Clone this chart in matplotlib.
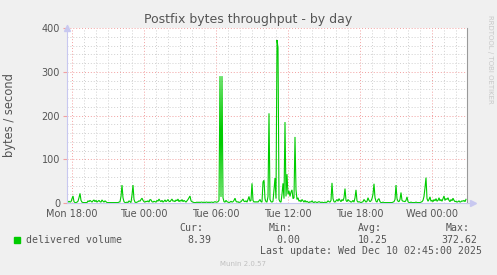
import numpy as np
import matplotlib
matplotlib.use("Agg")
import matplotlib.pyplot as plt
from matplotlib.ticker import MultipleLocator, FixedLocator

# delivered volume, bytes/s, one sample every 5 minutes (400 samples)
values = [
    1, 2, 4, 2, 3, 10, 16, 3, 1, 1, 2, 4, 12, 22, 6, 2, 1, 1, 1, 1,
    1, 5, 3, 6, 4, 2, 5, 7, 3, 6, 2, 4, 6, 3, 2, 7, 4, 2, 5, 3,
    1, 1, 1, 1, 1, 1, 1, 1, 1, 1, 1, 1, 2, 3, 15, 41, 12, 3, 1, 1,
    2, 1, 5, 3, 1, 18, 41, 8, 2, 1, 2, 3, 5, 4, 8, 11, 6, 3, 2, 4,
    3, 5, 2, 8, 7, 3, 2, 4, 3, 2, 6, 4, 9, 5, 3, 6, 2, 4, 7, 3,
    5, 8, 4, 3, 6, 9, 4, 5, 3, 7, 5, 9, 3, 6, 4, 8, 3, 6, 4, 2,
    5, 8, 12, 16, 5, 3, 2, 1, 1, 1, 2, 1, 2, 1, 2, 2, 1, 2, 1, 2,
    2, 1, 2, 1, 2, 2, 1, 2, 3, 2, 2, 3, 6, 290, 14, 290, 12, 3, 2, 6,
    3, 2, 1, 2, 4, 2, 3, 6, 11, 4, 2, 3, 1, 2, 3, 6, 9, 4, 3, 5,
    2, 8, 15, 4, 6, 45, 6, 2, 3, 2, 3, 2, 5, 8, 3, 2, 48, 52, 10, 3,
    2, 15, 205, 8, 3, 2, 4, 30, 57, 10, 372.62, 355, 8, 3, 2, 20, 45, 10, 185, 15,
    66, 20, 28, 15, 25, 30, 10, 12, 151, 30, 8, 12, 4, 6, 3, 8, 5, 2, 6, 2,
    4, 2, 1, 3, 2, 5, 2, 1, 3, 2, 1, 2, 3, 2, 1, 2, 1, 1, 2, 1,
    2, 5, 3, 2, 6, 46, 10, 3, 2, 5, 8, 4, 10, 6, 3, 8, 5, 12, 33, 6,
    3, 8, 5, 4, 2, 3, 6, 2, 12, 30, 5, 2, 3, 2, 1, 2, 3, 8, 5, 2,
    4, 12, 6, 3, 5, 10, 20, 44, 12, 4, 2, 8, 10, 3, 1, 1, 2, 1, 1, 1,
    1, 1, 1, 1, 1, 1, 2, 3, 8, 41, 10, 4, 3, 8, 24, 6, 4, 4, 3, 6,
    14, 3, 1, 1, 2, 1, 1, 1, 1, 2, 1, 1, 1, 1, 2, 3, 6, 15, 35, 58,
    10, 4, 8, 14, 4, 6, 3, 8, 5, 10, 4, 6, 12, 5, 8, 4, 10, 16, 6, 10,
    8, 12, 6, 3, 8, 5, 11, 6, 3, 4, 2, 3, 5, 2, 3, 5, 4, 6, 3, 8.39,
]

start_hour = 17 + 35 / 60          # Mon 17:35, hours since Mon 00:00
step_hour = 5 / 60
tick_hours = [18, 24, 30, 36, 42, 48]
tick_labels = ["Mon 18:00", "Tue 00:00", "Tue 06:00", "Tue 12:00", "Tue 18:00", "Wed 00:00"]

legend_name = "delivered volume"
stat_names = ["Cur:", "Min:", "Avg:", "Max:"]
stat_values = ["8.39", "0.00", "10.25", "372.62"]
last_update = "Last update: Wed Dec 10 02:45:00 2025"

title = "Postfix bytes throughput - by day"
ylabel = "bytes / second"

green = "#00CC00"
text_col = "#555555"
axis_col = "#C8C8F0"
major_col = "#F2A0A0"
minor_col = "#D0D0D0"

W, H = 497, 275
fig = plt.figure(figsize=(W / 100, H / 100), dpi=100, facecolor="#F0F0F0")
ax = fig.add_axes([67 / W, 1 - 203 / H, 400 / W, 175 / H])
ax.set_facecolor("white")

t = start_hour + np.arange(len(values)) * step_hour
ax.plot(t, values, color=green, lw=0.8, solid_joinstyle="miter")

ax.set_xlim(start_hour, start_hour + len(values) * step_hour)
ax.set_ylim(0, 400)

ax.xaxis.set_major_locator(FixedLocator(tick_hours))
ax.set_xticklabels(tick_labels)
ax.xaxis.set_minor_locator(MultipleLocator(1))
ax.yaxis.set_major_locator(MultipleLocator(100))
ax.yaxis.set_minor_locator(MultipleLocator(20))

ax.grid(which="minor", color=minor_col, lw=0.7, ls=(0, (1, 2)))
ax.grid(which="major", color=major_col, lw=0.7, ls=(0, (1, 2)))
ax.set_axisbelow(True)

ax.tick_params(which="both", length=0, labelsize=7, labelcolor=text_col, pad=4)
ax.tick_params(axis="y", which="major", length=3, color=major_col, pad=2)

ax.spines["top"].set_visible(False)
ax.spines["right"].set_color("#999999")
ax.spines["right"].set_linewidth(0.8)
for s in ["left", "bottom"]:
    ax.spines[s].set_color(axis_col)
    ax.spines[s].set_linewidth(0.8)

# axis arrows
ax.plot([0], [1.0], transform=ax.transAxes, marker="^", ms=4, color=axis_col,
        clip_on=False, mec=axis_col)
ax.plot([0, 0], [1.0, 1.02], transform=ax.transAxes, color=axis_col, lw=0.8, clip_on=False)
ax.plot([1.0, 1.015], [0, 0], transform=ax.transAxes, color=axis_col, lw=0.8, clip_on=False)
ax.plot([1.015], [0], transform=ax.transAxes, marker=">", ms=4, color=axis_col,
        clip_on=False, mec=axis_col)

fig.text(0.5, 1 - 19 / H, title, ha="center", va="center", fontsize=9, color=text_col)
fig.text(10 / W, 1 - 115 / H, ylabel, rotation=90, ha="center", va="center",
         fontsize=8.3, color=text_col)
fig.text(490 / W, 1 - 59 / H, "RRDTOOL / TOBI OETIKER", rotation=270, ha="center",
         va="center", fontsize=5, color="#C8C8C8")

mono = "DejaVu Sans Mono"
fs = 7.1
fig.patches.append(plt.Rectangle((14 / W, 1 - 243 / H), 6 / W, 6 / H,
                                 transform=fig.transFigure, color=green))
fig.text(26 / W, 1 - 240 / H, legend_name, family=mono, fontsize=fs,
         color=text_col, va="center")
head_right = [203, 293, 382, 470]
val_right = [211, 300, 388, 477]
for name, val, hx, vx in zip(stat_names, stat_values, head_right, val_right):
    fig.text(hx / W, 1 - 228 / H, name, family=mono, fontsize=fs, color=text_col,
             ha="right", va="center")
    fig.text(vx / W, 1 - 240 / H, val, family=mono, fontsize=fs, color=text_col,
             ha="right", va="center")
fig.text(482 / W, 1 - 251 / H, last_update, family=mono, fontsize=fs, color=text_col,
         ha="right", va="center")
fig.text(243 / W, 1 - 264 / H, "Munin 2.0.57", fontsize=5, color="#C0C0C0",
         ha="center", va="center")

fig.savefig("out.png", dpi=100, facecolor=fig.get_facecolor())
